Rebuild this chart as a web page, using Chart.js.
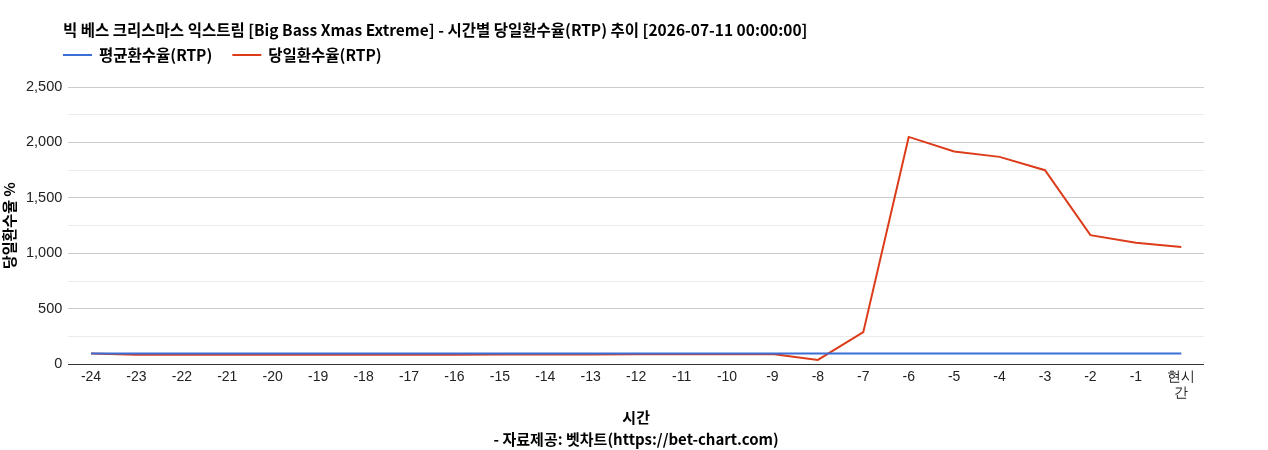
<!DOCTYPE html>
<html>
<head>
<meta charset="utf-8">
<script src="https://cdn.jsdelivr.net/npm/chart.js@4"></script>
<style>
  body { margin: 0; background: #fff; }
  #wrap { width: 1268px; height: 450px; }
</style>
</head>
<body>
<div id="wrap"><canvas id="rtpChart"></canvas></div>
<script>
// 시간 라벨
const hours = ['-24', '-23', '-22', '-21', '-20', '-19', '-18', '-17', '-16', '-15', '-14', '-13',
    '-12', '-11', '-10', '-9', '-8', '-7', '-6', '-5', '-4', '-3', '-2', '-1', ['현시', '간']];

// 평균환수율 (flat)
const avgRtp = [97, 97, 97, 97, 97, 97, 97, 97, 97, 97, 97, 97, 97,
    97, 97, 97, 97, 97, 97, 97, 97, 97, 97, 97, 97];

// 당일환수율
const dailyRtp = [97, 85, 85, 85, 85, 85, 85, 85, 85, 89, 89, 89, 90,
    90, 91, 92, 39, 290, 2050, 1918, 1870, 1750, 1164, 1096, 1057];

const seriesNames = ['평균환수율(RTP)', '당일환수율(RTP)'];
const seriesColors = ['#3a6fd8', '#dc3c1a'];
const chartTitle = '빅 베스 크리스마스 익스트림 [Big Bass Xmas Extreme] - 시간별 당일환수율(RTP) 추이 [2026-07-11 00:00:00]';

// title + legend drawn at fixed spots on the left
const headerPlugin = {
    id: 'header',
    afterDraw(chart) {
        const ctx = chart.ctx;
        ctx.save();
        ctx.textBaseline = 'middle';
        ctx.fillStyle = '#000';
        ctx.font = 'bold 15.5px "Noto Sans CJK KR", "Noto Sans", sans-serif';
        ctx.fillText(chartTitle, 63, 30);

        let x = 63;
        chart.data.datasets.forEach(ds => {
            ctx.strokeStyle = ds.borderColor;
            ctx.lineWidth = 2;
            ctx.beginPath();
            ctx.moveTo(x, 55);
            ctx.lineTo(x + 29, 55);
            ctx.stroke();
            ctx.fillStyle = '#000';
            ctx.fillText(ds.label, x + 36, 55);
            x += 36 + ctx.measureText(ds.label).width + 20;
        });
        ctx.restore();
    }
};

new Chart(document.getElementById('rtpChart'), {
    type: 'line',
    data: {
        labels: hours,
        datasets: [
            {
                label: seriesNames[0],
                data: avgRtp,
                borderColor: seriesColors[0],
                backgroundColor: seriesColors[0],
                borderWidth: 2,
                pointRadius: 0,
                tension: 0
            },
            {
                label: seriesNames[1],
                data: dailyRtp,
                borderColor: seriesColors[1],
                backgroundColor: seriesColors[1],
                borderWidth: 2,
                pointRadius: 0,
                tension: 0
            }
        ]
    },
    options: {
        responsive: true,
        maintainAspectRatio: false,
        animation: false,
        layout: { padding: { top: 87, right: 64, left: 0, bottom: 0 } },
        plugins: {
            legend: { display: false },
            title: { display: false },
            tooltip: { enabled: false }
        },
        scales: {
            x: {
                offset: true,
                grid: { display: false, drawTicks: false },
                border: { display: false },
                ticks: {
                    color: '#222',
                    font: { family: '"Liberation Sans", Arial, sans-serif', size: 14, lineHeight: 1.15 },
                    padding: 5,
                    maxRotation: 0,
                    autoSkip: false
                },
                title: {
                    display: true,
                    text: ['시간', '- 자료제공: 벳차트(https://bet-chart.com)'],
                    color: '#000',
                    font: { family: '"Noto Sans CJK KR", sans-serif', size: 15, weight: 'bold', lineHeight: 1.45 },
                    padding: { top: 0, bottom: 0 }
                }
            },
            y: {
                min: 0,
                max: 2500,
                grid: {
                    drawTicks: false,
                    color: ctx => {
                        const v = ctx.tick.value;
                        if (v === 0) return '#333';
                        return v % 500 === 0 ? '#cccccc' : '#ebebeb';
                    },
                    lineWidth: 1
                },
                border: { display: false },
                ticks: {
                    stepSize: 250,
                    padding: 6,
                    color: '#222',
                    font: { family: '"Liberation Sans", Arial, sans-serif', size: 14.5 },
                    callback: v => (v % 500 === 0 ? v.toLocaleString('en-US') : '')
                },
                title: {
                    display: true,
                    text: '당일환수율 %',
                    color: '#000',
                    font: { family: '"Noto Sans CJK KR", sans-serif', size: 15, weight: 'bold' },
                    padding: { top: 0, bottom: 2 }
                }
            }
        }
    },
    plugins: [headerPlugin]
});
</script>
</body>
</html>
